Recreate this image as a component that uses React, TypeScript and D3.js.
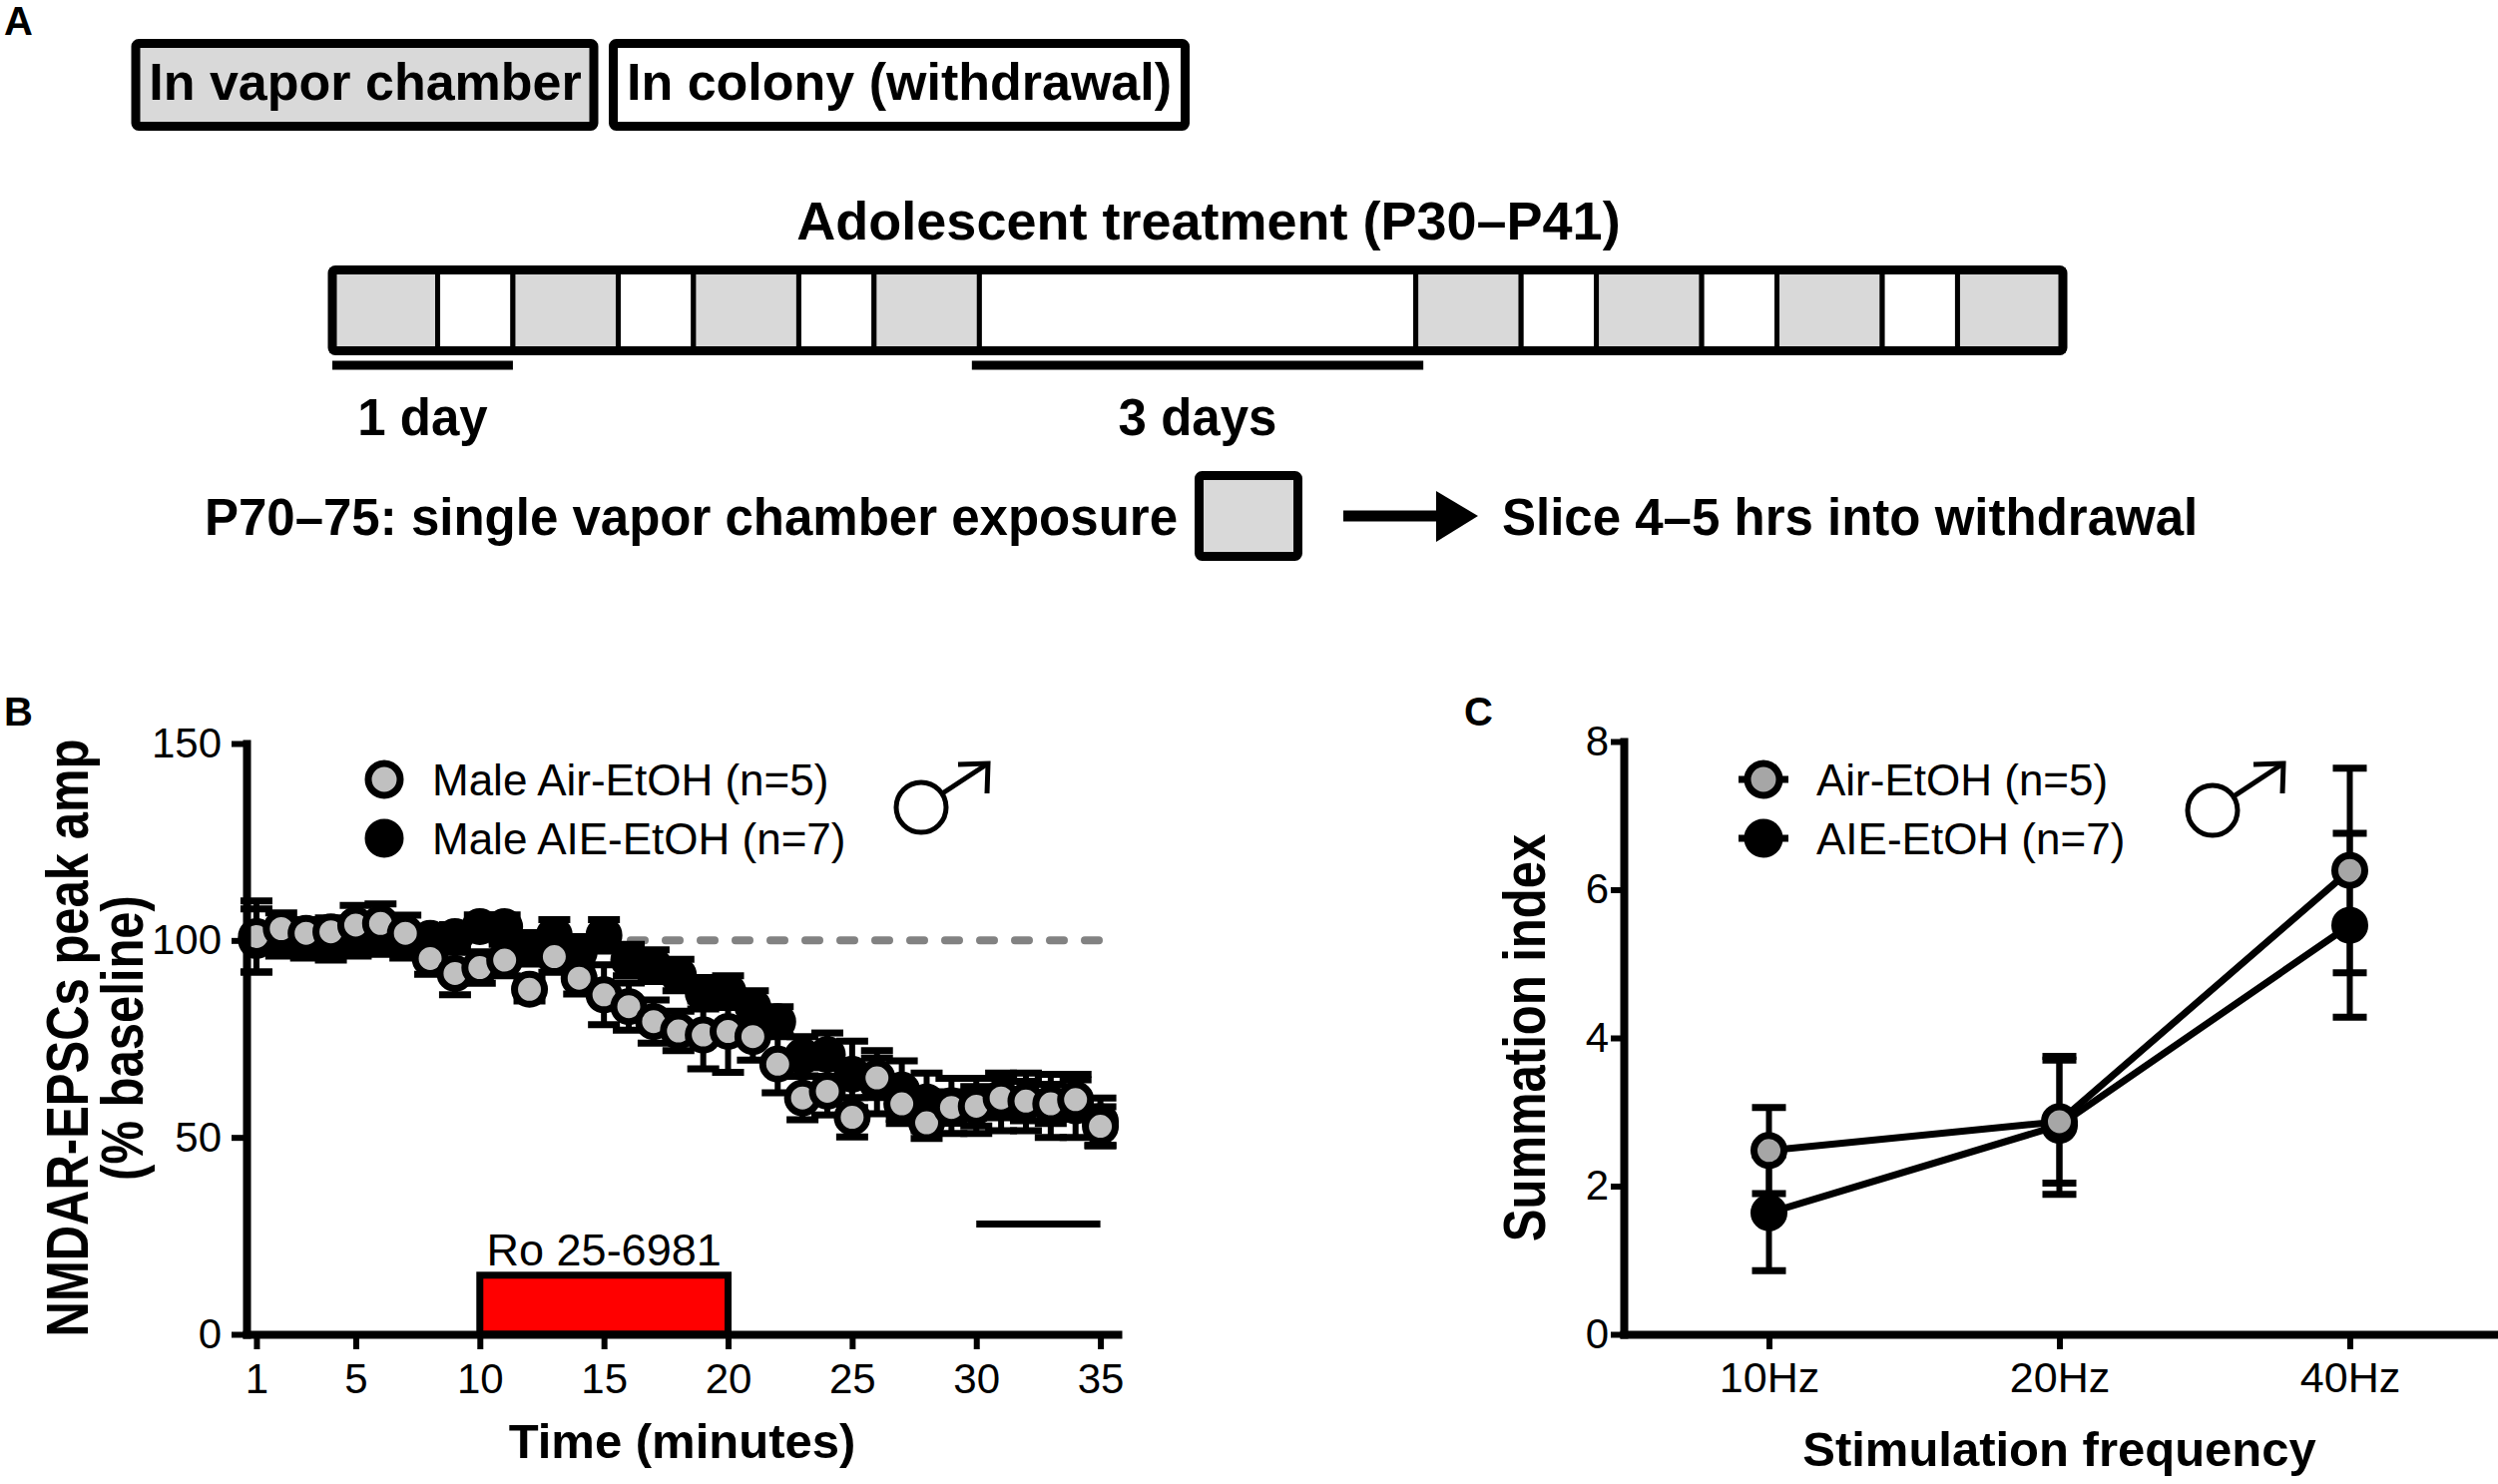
import React, {useEffect, useRef} from 'react';
import * as d3 from 'd3';

const FONT = '"Liberation Sans", Arial, Helvetica, sans-serif';
const GRAY_A = '#d9d9d9';
const GRAY_B = '#c0c0c0';
const GRAY_C = '#a6a6a6';

// Panel A: adolescent schedule, block kinds and durations in hours
const scheduleKinds = [
  'chamber', 'colony', 'chamber', 'colony', 'chamber', 'colony', 'chamber',
  'colony', 'chamber', 'colony', 'chamber', 'colony', 'chamber', 'colony', 'chamber',
];
const scheduleHours = [14, 10, 14, 10, 14, 10, 14, 58, 14, 10, 14, 10, 14, 10, 14];
const scaleBarLabels = ['1 day', '3 days'];
const scaleBarStart = [0, 85];
const scaleBarEnd = [24, 145];

// Panel B: NMDAR-EPSC peak amplitude (% baseline) per minute
const minutes = [
  1, 2, 3, 4, 5, 6, 7, 8, 9, 10, 11, 12, 13, 14, 15, 16, 17, 18, 19, 20,
  21, 22, 23, 24, 25, 26, 27, 28, 29, 30, 31, 32, 33, 34, 35,
];
const airMean = [
  101, 103, 101.8, 102.2, 103.9, 104.3, 101.8, 95.4, 91.6, 93.1, 95, 87.6,
  95.9, 90.4, 86.2, 83.2, 79.4, 77, 76, 76.9, 75.6, 68.6, 60, 61.7, 55.1,
  65.1, 58.5, 53.7, 57.6, 57.9, 60, 59.2, 58.5, 59.6, 52.8,
];
const airSem = [
  9, 4, 3.5, 3.5, 5, 5, 4.6, 4, 5.4, 4, 4, 3, 4, 4, 7.6, 6, 5.5, 5, 8.6,
  10.4, 6, 7.3, 5.5, 6, 5, 5, 5, 4, 4, 5, 5, 5, 5, 5, 5,
];
const aieMean = [
  100, 100, 99.5, 99, 100, 100.5, 99.5, 100.5, 101, 103.5, 103.5, 98, 101.3,
  97, 101.3, 95, 93.6, 91.2, 86.6, 87, 83.2, 79.4, 70.6, 71, 66, 64, 62, 59,
  58, 58, 59, 59, 58, 58, 54,
];
const aieSem = [
  8, 4, 4, 4, 4, 4, 4, 3, 3, 3, 3, 4, 4, 4, 4, 4, 4, 4, 4, 4, 4, 3.8, 5,
  5.5, 8.4, 8, 7.4, 7.3, 7, 7, 7.3, 7.3, 8, 8, 6,
];
const timeTicks = [1, 5, 10, 15, 20, 25, 30, 35];
const ampTicks = [0, 50, 100, 150];
const baselineLevel = 100;
const drugWindow = [10, 20];
const drugLevel = 15;
const analysisWindow = [30, 35];
const analysisLevel = 28;

// Panel C: summation index by stimulation frequency
const frequencies = ['10Hz', '20Hz', '40Hz'];
const airSummation = [2.48, 2.87, 6.26];
const airSummationSem = [0.58, 0.83, 1.38];
const aieSummation = [1.64, 2.82, 5.52];
const aieSummationSem = [0.78, 0.93, 1.24];
const summationTicks = [0, 2, 4, 6, 8];

// scales
const xT = d3.scaleLinear().domain([0, d3.sum(scheduleHours)]).range([333, 2067]);
const xB = d3.scaleLinear().domain([0.6, 35.7]).range([247, 1120]);
const yB = d3.scaleLinear().domain([0, 150]).range([1337, 745]);
const xC = d3.scalePoint<string>().domain(frequencies).range([1627, 2500]).padding(0.5);
const yC = d3.scaleLinear().domain([0, 8]).range([1337, 743]);

const styleAxis = (g: any, fontSize: number) => {
  g.attr('font-family', FONT).attr('font-size', fontSize);
  g.select('.domain').attr('stroke-width', 8).attr('stroke-linecap', 'square');
  g.selectAll('.tick line').attr('stroke-width', 6);
};

const ErrorBar = ({x, lo, hi, cap}: {x: number; lo: number; hi: number; cap: number}) => (
  <g stroke="#000">
    <line x1={x} x2={x} y1={lo} y2={hi} strokeWidth={6} />
    <line x1={x - cap / 2} x2={x + cap / 2} y1={lo} y2={lo} strokeWidth={7} />
    <line x1={x - cap / 2} x2={x + cap / 2} y1={hi} y2={hi} strokeWidth={7} />
  </g>
);

const Male = ({cx, cy, r, tipX, tipY}: {cx: number; cy: number; r: number; tipX: number; tipY: number}) => {
  const ang = Math.atan2(tipY - cy, tipX - cx);
  const arm = 30;
  return (
    <g fill="none" stroke="#000" strokeWidth={5}>
      <circle cx={cx} cy={cy} r={r} />
      <line x1={cx + r * Math.cos(ang)} y1={cy + r * Math.sin(ang)} x2={tipX} y2={tipY} />
      <polyline points={`${tipX - arm},${tipY + 1} ${tipX},${tipY} ${tipX - 1},${tipY + arm}`} />
    </g>
  );
};

const Schedule = () => {
  const ends = Array.from(d3.cumsum(scheduleHours));
  const starts = ends.map((e, i) => e - scheduleHours[i]);
  return (
    <g>
      <rect x={136} y={43.5} width={459} height={83} fill={GRAY_A} stroke="#000" strokeWidth={9} rx={3} />
      <rect x={614.5} y={43.5} width={573} height={83} fill="#fff" stroke="#000" strokeWidth={9} rx={3} />
      <g fontFamily={FONT} fontWeight="bold" fontSize={52} textAnchor="middle">
        <text x={366} y={100}>In vapor chamber</text>
        <text x={901} y={100}>In colony (withdrawal)</text>
        <text x={1211} y={240} fontSize={54}>Adolescent treatment (P30–P41)</text>
      </g>
      {scheduleKinds.map((k, i) => (
        <rect
          key={i}
          x={xT(starts[i])}
          y={270.5}
          width={xT(ends[i]) - xT(starts[i])}
          height={81}
          fill={k === 'chamber' ? GRAY_A : '#fff'}
          stroke="#000"
          strokeWidth={5}
        />
      ))}
      <rect x={xT(0)} y={270.5} width={xT(d3.sum(scheduleHours)) - xT(0)} height={81} fill="none" stroke="#000" strokeWidth={9} rx={3} />
      {scaleBarLabels.map((lab, i) => (
        <g key={lab}>
          <line x1={xT(scaleBarStart[i])} x2={xT(scaleBarEnd[i])} y1={366} y2={366} stroke="#000" strokeWidth={9} />
          <text
            x={xT((scaleBarStart[i] + scaleBarEnd[i]) / 2)}
            y={436}
            fontFamily={FONT}
            fontWeight="bold"
            fontSize={51}
            textAnchor="middle"
          >
            {lab}
          </text>
        </g>
      ))}
      <g fontFamily={FONT} fontWeight="bold" fontSize={51}>
        <text x={1180} y={536} textAnchor="end">P70–75: single vapor chamber exposure</text>
        <text x={1505} y={536}>Slice 4–5 hrs into withdrawal</text>
      </g>
      <rect x={1201.5} y={476.5} width={99} height={81} fill={GRAY_A} stroke="#000" strokeWidth={9} rx={3} />
      <line x1={1346} x2={1445} y1={517} y2={517} stroke="#000" strokeWidth={11} />
      <polygon points="1439,492 1481,517 1439,543" fill="#000" />
    </g>
  );
};

export default function App() {
  const bxRef = useRef<SVGGElement>(null);
  const byRef = useRef<SVGGElement>(null);
  const cxRef = useRef<SVGGElement>(null);
  const cyRef = useRef<SVGGElement>(null);

  useEffect(() => {
    styleAxis(
      d3.select(bxRef.current!).call(
        d3.axisBottom(xB).tickValues(timeTicks).tickSize(15).tickSizeOuter(0).tickPadding(14),
      ),
      42,
    );
    styleAxis(
      d3.select(byRef.current!).call(
        d3.axisLeft(yB).tickValues(ampTicks).tickSize(15).tickSizeOuter(0).tickPadding(10),
      ),
      42,
    );
    styleAxis(
      d3.select(cxRef.current!).call(
        d3.axisBottom(xC).tickSize(15).tickSizeOuter(0).tickPadding(12),
      ),
      43,
    );
    styleAxis(
      d3.select(cyRef.current!).call(
        d3.axisLeft(yC).tickValues(summationTicks).tickSize(13).tickSizeOuter(0).tickPadding(2),
      ),
      42,
    );
  }, []);

  const lineC = d3
    .line<number>()
    .x((_, i) => xC(frequencies[i])!)
    .y((d) => yC(d));

  return (
    <svg
      width={2503}
      height={1487}
      style={{position: 'absolute', left: 0, top: 0, background: '#fff'}}
    >
      <rect width={2503} height={1487} fill="#fff" />
      <g fontFamily={FONT} fontWeight="bold" fontSize={40}>
        <text x={4} y={35}>A</text>
        <text x={4} y={727}>B</text>
        <text x={1467} y={727}>C</text>
      </g>

      <Schedule />

      {/* Panel B */}
      <line
        x1={xB.range()[0]}
        x2={xB(35.2)}
        y1={yB(baselineLevel)}
        y2={yB(baselineLevel)}
        stroke="#828282"
        strokeWidth={8}
        strokeDasharray="14 21"
        strokeLinecap="round"
      />
      <rect
        x={xB(drugWindow[0])}
        y={yB(drugLevel)}
        width={xB(drugWindow[1]) - xB(drugWindow[0])}
        height={yB(0) - yB(drugLevel)}
        fill="#ff0000"
        stroke="#000"
        strokeWidth={7}
      />
      <text
        x={xB((drugWindow[0] + drugWindow[1]) / 2)}
        y={1268}
        fontFamily={FONT}
        fontSize={45}
        textAnchor="middle"
      >
        Ro 25-6981
      </text>
      <line
        x1={xB(analysisWindow[0])}
        x2={xB(analysisWindow[1])}
        y1={yB(analysisLevel)}
        y2={yB(analysisLevel)}
        stroke="#000"
        strokeWidth={7}
      />
      {minutes.map((m, i) => (
        <ErrorBar key={'ae' + m} x={xB(m)} lo={yB(aieMean[i] - aieSem[i])} hi={yB(aieMean[i] + aieSem[i])} cap={32} />
      ))}
      {minutes.map((m, i) => (
        <circle key={'ac' + m} cx={xB(m)} cy={yB(aieMean[i])} r={15} fill="#000" stroke="#000" strokeWidth={7} />
      ))}
      {minutes.map((m, i) => (
        <ErrorBar key={'ge' + m} x={xB(m)} lo={yB(airMean[i] - airSem[i])} hi={yB(airMean[i] + airSem[i])} cap={32} />
      ))}
      {minutes.map((m, i) => (
        <circle key={'gc' + m} cx={xB(m)} cy={yB(airMean[i])} r={15} fill={GRAY_B} stroke="#000" strokeWidth={7} />
      ))}
      <g ref={bxRef} transform={`translate(0,${yB(0)})`} />
      <g ref={byRef} transform={`translate(${xB.range()[0]},0)`} />

      <g fontFamily={FONT} fontSize={44}>
        <circle cx={385} cy={781} r={16} fill={GRAY_B} stroke="#000" strokeWidth={7} />
        <text x={433} y={797}>Male Air-EtOH (n=5)</text>
        <circle cx={385} cy={840} r={16} fill="#000" stroke="#000" strokeWidth={7} />
        <text x={433} y={856}>Male AIE-EtOH (n=7)</text>
      </g>
      <Male cx={923} cy={809} r={25} tipX={990} tipY={765} />

      <g fontFamily={FONT} fontWeight="bold" fontSize={49} textAnchor="middle">
        <text x={(xB.range()[0] + xB.range()[1]) / 2} y={1461}>Time (minutes)</text>
        <text transform="translate(88,1040) rotate(-90) scale(1,1.2)">NMDAR-EPSCs peak amp</text>
        <text transform="translate(143,1040) rotate(-90) scale(1,1.2)">(% baseline)</text>
      </g>

      {/* Panel C */}
      {frequencies.map((f, i) => (
        <ErrorBar
          key={'cae' + f}
          x={xC(f)!}
          lo={yC(aieSummation[i] - aieSummationSem[i])}
          hi={yC(aieSummation[i] + aieSummationSem[i])}
          cap={34}
        />
      ))}
      {frequencies.map((f, i) => (
        <ErrorBar
          key={'cge' + f}
          x={xC(f)!}
          lo={yC(airSummation[i] - airSummationSem[i])}
          hi={yC(airSummation[i] + airSummationSem[i])}
          cap={34}
        />
      ))}
      <path d={lineC(aieSummation)!} fill="none" stroke="#000" strokeWidth={7} />
      <path d={lineC(airSummation)!} fill="none" stroke="#000" strokeWidth={7} />
      {frequencies.map((f, i) => (
        <circle key={'cac' + f} cx={xC(f)} cy={yC(aieSummation[i])} r={15} fill="#000" stroke="#000" strokeWidth={7} />
      ))}
      {frequencies.map((f, i) => (
        <circle key={'cgc' + f} cx={xC(f)} cy={yC(airSummation[i])} r={15} fill={GRAY_C} stroke="#000" strokeWidth={7} />
      ))}
      <g ref={cxRef} transform={`translate(0,${yC(0)})`} />
      <g ref={cyRef} transform={`translate(${xC.range()[0]},0)`} />

      <g fontFamily={FONT} fontSize={44}>
        <line x1={1742} x2={1792} y1={781} y2={781} stroke="#000" strokeWidth={7} />
        <circle cx={1767} cy={781} r={16} fill={GRAY_C} stroke="#000" strokeWidth={7} />
        <text x={1820} y={797}>Air-EtOH (n=5)</text>
        <line x1={1742} x2={1792} y1={840} y2={840} stroke="#000" strokeWidth={7} />
        <circle cx={1767} cy={840} r={16} fill="#000" stroke="#000" strokeWidth={7} />
        <text x={1820} y={856}>AIE-EtOH (n=7)</text>
      </g>
      <Male cx={2217} cy={812} r={25} tipX={2288} tipY={765} />

      <g fontFamily={FONT} fontWeight="bold" fontSize={49} textAnchor="middle">
        <text x={(xC.range()[0] + xC.range()[1]) / 2} y={1469}>Stimulation frequency</text>
        <text transform="translate(1548,1040) rotate(-90) scale(1,1.2)">Summation index</text>
      </g>
    </svg>
  );
}
